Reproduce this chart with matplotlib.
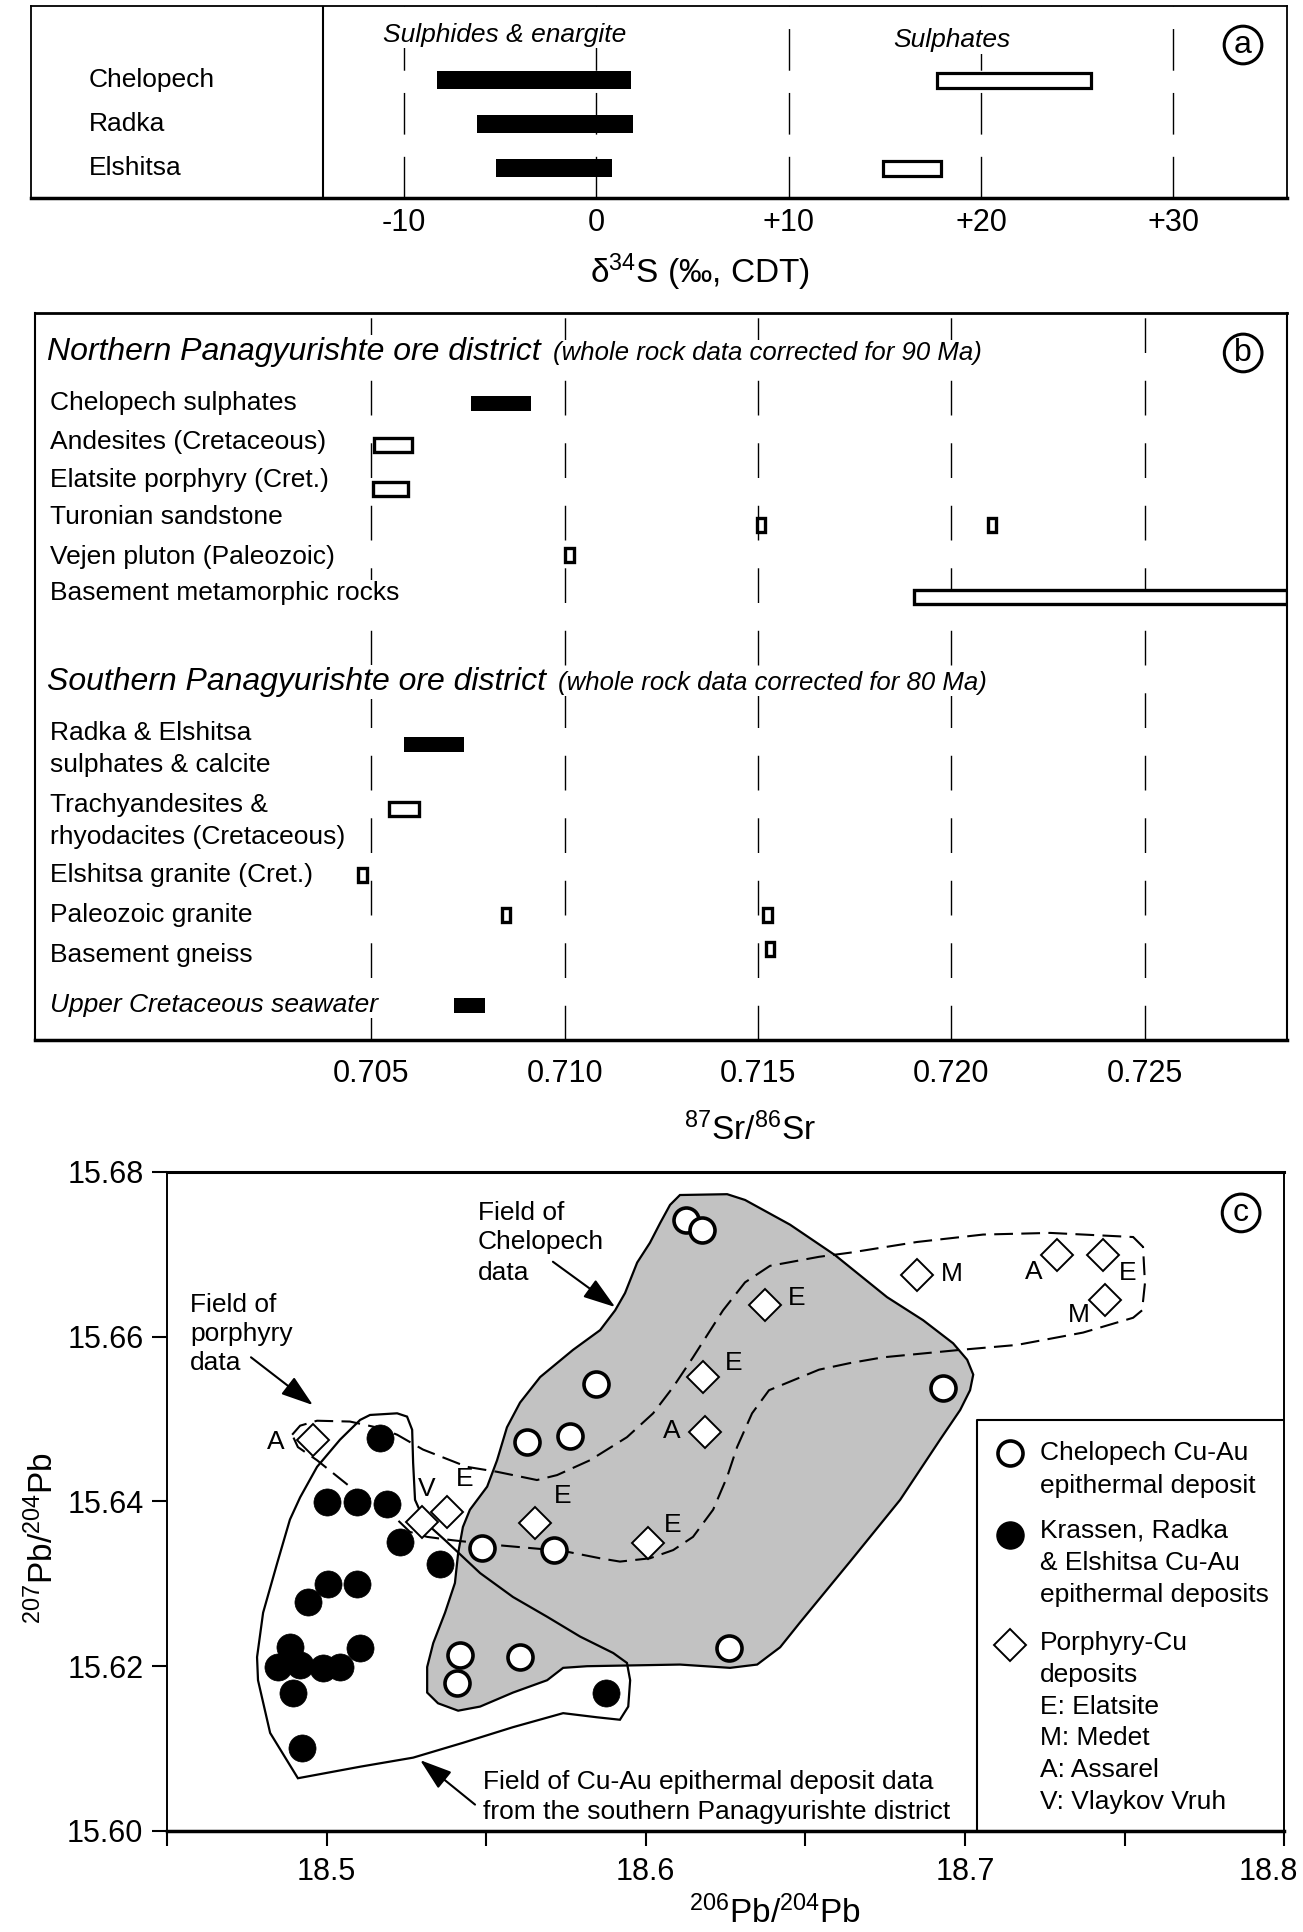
import numpy as np
import matplotlib
matplotlib.use('Agg')
import matplotlib.pyplot as plt
from matplotlib.patches import Polygon
from matplotlib.transforms import blended_transform_factory as blend, ScaledTranslation

plt.rcParams['font.family'] = ['Liberation Sans', 'DejaVu Sans']
plt.rcParams['mathtext.fontset'] = 'custom'
plt.rcParams['mathtext.rm'] = 'Liberation Sans'
plt.rcParams['mathtext.it'] = 'Liberation Sans:italic'

# ---------------- (a) sulphur isotopes
s_sites = ['Chelopech', 'Radka', 'Elshitsa']
sulphide_lo = [-8.3, -6.2, -5.2]
sulphide_hi = [1.8, 1.9, 0.8]
sulphate_sites = ['Chelopech', 'Elshitsa']
sulphate_lo = [17.7, 14.9]
sulphate_hi = [25.7, 17.9]
s_ticks = [-10, 0, 10, 20, 30]
s_ticklabels = ['-10', '0', '+10', '+20', '+30']

# ---------------- (b) strontium isotopes
north_labels = ['Chelopech sulphates', 'Andesites (Cretaceous)', 'Elatsite porphyry (Cret.)',
                'Turonian sandstone', 'Vejen pluton (Paleozoic)', 'Basement metamorphic rocks']
north_ranges = [[(0.70757, 0.70913)],
                [(0.70507, 0.70606)],
                [(0.70505, 0.70596)],
                [(0.71497, 0.71518), (0.72095, 0.72116)],
                [(0.71002, 0.71024)],
                [(0.71904, 0.72868)]]
north_filled = [True, False, False, False, False, False]

south_labels = [['Radka & Elshitsa', 'sulphates & calcite'],
                ['Trachyandesites &', 'rhyodacites (Cretaceous)'],
                ['Elshitsa granite (Cret.)'],
                ['Paleozoic granite'],
                ['Basement gneiss'],
                ['Upper Cretaceous seawater']]
south_ranges = [[(0.70584, 0.70740)],
                [(0.70545, 0.70623)],
                [(0.70467, 0.70488)],
                [(0.70838, 0.70859), (0.71513, 0.71536)],
                [(0.71520, 0.71542)],
                [(0.70714, 0.70794)]]
south_filled = [True, False, False, False, False, True]
sr_ticks = [0.705, 0.710, 0.715, 0.720, 0.725]

# ---------------- (c) lead isotopes
chel_x = [18.6126, 18.6176, 18.5844, 18.6932, 18.5628, 18.5763, 18.5487, 18.5713,
          18.5418, 18.5409, 18.5606, 18.6261]
chel_y = [15.6742, 15.6730, 15.6543, 15.6538, 15.6472, 15.6480, 15.6344, 15.6341,
          15.6214, 15.6180, 15.6211, 15.6222]
south_x = [18.5167, 18.5001, 18.5095, 18.5189, 18.5230, 18.5355, 18.5004, 18.5095, 18.4942,
           18.4885, 18.4848, 18.4917, 18.4989, 18.5042, 18.5105, 18.4895, 18.4923, 18.5876]
south_y = [15.6477, 15.6399, 15.6399, 15.6397, 15.6351, 15.6324, 15.6300, 15.6300, 15.6278,
           15.6223, 15.6199, 15.6202, 15.6198, 15.6199, 15.6222, 15.6168, 15.6101, 15.6168]
por_x = [18.4957, 18.5299, 18.5377, 18.5653, 18.6007, 18.6186, 18.6180, 18.6374,
         18.6850, 18.7289, 18.7433, 18.7439]
por_y = [15.6475, 15.6375, 15.6387, 15.6374, 15.6350, 15.6484, 15.6551, 15.6639,
         15.6675, 15.6699, 15.6699, 15.6645]
por_code = ['A', 'V', 'E', 'E', 'E', 'A', 'E', 'E', 'M', 'A', 'E', 'M']

# outlines of the data fields
chel_field_x = [18.6107, 18.6255, 18.6311, 18.6452, 18.6593, 18.6756, 18.6869, 18.6963, 18.7007,
                18.7026, 18.7016, 18.6985, 18.6922, 18.6797, 18.6640, 18.6483, 18.6421, 18.6349,
                18.6264, 18.6107, 18.5816, 18.5741, 18.5691, 18.5584, 18.5481, 18.5412, 18.5349,
                18.5315, 18.5315, 18.5334, 18.5371, 18.5402, 18.5412, 18.5427, 18.5449, 18.5503,
                18.5534, 18.5565, 18.5606, 18.5669, 18.5772, 18.5857, 18.5904, 18.5935, 18.5973,
                18.6013, 18.6045, 18.6076]
chel_field_y = [15.6772, 15.6773, 15.6766, 15.6736, 15.6699, 15.6648, 15.6620, 15.6592, 15.6572,
                15.6554, 15.6535, 15.6511, 15.6475, 15.6402, 15.6327, 15.6253, 15.6223, 15.6202,
                15.6198, 15.6202, 15.6200, 15.6198, 15.6183, 15.6168, 15.6151, 15.6146, 15.6155,
                15.6168, 15.6199, 15.6228, 15.6265, 15.6301, 15.6337, 15.6369, 15.6390, 15.6418,
                15.6450, 15.6490, 15.6520, 15.6551, 15.6584, 15.6608, 15.6632, 15.6653, 15.6690,
                15.6714, 15.6738, 15.6760]
south_field_x = [18.5105, 18.5136, 18.5221, 18.5252, 18.5268, 18.5271, 18.5277, 18.5308, 18.5371,
                 18.5481, 18.5584, 18.5691, 18.5794, 18.5898, 18.5941, 18.5951, 18.5945, 18.5919,
                 18.5847, 18.5741, 18.5584, 18.5427, 18.5271, 18.5105, 18.4910, 18.4823, 18.4785,
                 18.4782, 18.4801, 18.4845, 18.4885, 18.4917, 18.4970, 18.5042]
south_field_y = [15.6499, 15.6505, 15.6507, 15.6503, 15.6487, 15.6447, 15.6402, 15.6375, 15.6353,
                 15.6313, 15.6284, 15.6260, 15.6236, 15.6216, 15.6204, 15.6183, 15.6151, 15.6135,
                 15.6138, 15.6143, 15.6126, 15.6107, 15.6089, 15.6078, 15.6064, 15.6119, 15.6183,
                 15.6211, 15.6265, 15.6325, 15.6378, 15.6405, 15.6442, 15.6475]
por_field_x = [18.4892, 18.4917, 18.4970, 18.5073, 18.5167, 18.5221, 18.5302, 18.5440, 18.5534,
               18.5659, 18.5722, 18.5825, 18.5941, 18.6023, 18.6086, 18.6148, 18.6242, 18.6311,
               18.6389, 18.6543, 18.6640, 18.6850, 18.7057, 18.7267, 18.7527, 18.7558, 18.7564,
               18.7555, 18.7527, 18.7370, 18.7163, 18.6985, 18.6744, 18.6640, 18.6543, 18.6386,
               18.6333, 18.6286, 18.6255, 18.6211, 18.6148, 18.6086, 18.6013, 18.5919, 18.5857,
               18.5753, 18.5709, 18.5534, 18.5393, 18.5315, 18.5261, 18.5221, 18.5158, 18.5073,
               18.4970, 18.4910]
por_field_y = [15.6481, 15.6492, 15.6498, 15.6497, 15.6489, 15.6481, 15.6463, 15.6442, 15.6436,
               15.6426, 15.6432, 15.6450, 15.6478, 15.6507, 15.6539, 15.6575, 15.6632, 15.6666,
               15.6686, 15.6697, 15.6702, 15.6715, 15.6724, 15.6726, 15.6721, 15.6709, 15.6665,
               15.6632, 15.6623, 15.6605, 15.6590, 15.6584, 15.6575, 15.6568, 15.6560, 15.6535,
               15.6507, 15.6466, 15.6430, 15.6390, 15.6357, 15.6341, 15.6331, 15.6327, 15.6331,
               15.6339, 15.6341, 15.6347, 15.6353, 15.6357, 15.6363, 15.6378, 15.6398, 15.6418,
               15.6450, 15.6466]

pb_xticks = [18.5, 18.6, 18.7, 18.8]
pb_xminor = [18.45, 18.55, 18.65, 18.75]
pb_yticks = [15.60, 15.62, 15.64, 15.66, 15.68]

# ======================================================================
fig = plt.figure(figsize=(13.03, 19.32), dpi=100)
white_box = dict(boxstyle='square,pad=0.05', fc='white', ec='none')


def circled(ax, x, y, letter):
    ax.text(x, y, letter, transform=ax.transAxes, ha='center', va='center', fontsize=23,
            bbox=dict(boxstyle='circle,pad=0.12', fc='white', ec='black', lw=2.2), zorder=10)


# ---------------- panel a
axa = fig.add_axes([0.0238, 0.8975, 0.9639, 0.0995])
axa.set_xlim(-29.4, 35.9)
axa.set_ylim(2.67, -1.68)
for xv in s_ticks:
    axa.axvline(xv, color='black', lw=1, dashes=(30, 16), zorder=1)
axa.axvline(-14.2, color='black', lw=1.5, zorder=2)
rows = np.arange(len(s_sites))
axa.barh(rows, np.array(sulphide_hi) - np.array(sulphide_lo), left=sulphide_lo,
         height=0.41, color='black', zorder=3)
srows = [s_sites.index(s) for s in sulphate_sites]
axa.barh(srows, np.array(sulphate_hi) - np.array(sulphate_lo), left=sulphate_lo,
         height=0.34, color='white', edgecolor='black', linewidth=2.3, zorder=3)
tra = blend(axa.transAxes, axa.transData)
for i, s in enumerate(s_sites):
    axa.text(0.046, i, s, transform=tra, va='center', fontsize=19)
axa.text(-4.8, -1.02, 'Sulphides & enargite', style='italic', ha='center', va='center',
         fontsize=19, bbox=white_box, zorder=4)
axa.text(18.5, -0.9, 'Sulphates', style='italic', ha='center', va='center', fontsize=19,
         bbox=white_box, zorder=4)
axa.set_xticks(s_ticks)
axa.set_xticklabels(s_ticklabels)
axa.set_yticks([])
axa.tick_params(axis='x', length=0, pad=7, labelsize=22)
axa.text(5.4, -0.385, r'$\mathrm{\delta}^{34}$S (‰, CDT)', transform=blend(axa.transData, axa.transAxes),
         ha='center', va='center', fontsize=24)
for sp in axa.spines.values():
    sp.set_linewidth(1.3)
axa.spines['bottom'].set_linewidth(2.5)
circled(axa, 0.965, 0.796, 'a')

# ---------------- panel b
axb = fig.add_axes([0.0269, 0.4617, 0.9609, 0.3763])
axb.set_xlim(0.69631, 0.72868)
axb.set_ylim(1040, 313)
for xv in sr_ticks:
    axb.axvline(xv, color='black', lw=1, dashes=(25, 20), zorder=1)

north_bar_y = [404, 445, 489, 525, 555, 597]
north_text_y = [403, 442, 480, 517, 557, 593]
south_bar_y = [745, 809, 875, 915, 949, 1006]
south_text_y = [[733, 765], [805, 837], [875], [915], [955], [1005]]


def draw_rows(ax, ranges, filled, ys):
    for rr, f, y in zip(ranges, filled, ys):
        for lo, hi in rr:
            if f:
                ax.barh(y, hi - lo, left=lo, height=15, color='black', zorder=3)
            else:
                ax.barh(y, hi - lo, left=lo, height=13.5, color='white',
                        edgecolor='black', linewidth=2.4, zorder=3)


draw_rows(axb, north_ranges, north_filled, north_bar_y)
draw_rows(axb, south_ranges, south_filled, south_bar_y)

trb = blend(axb.transAxes, axb.transData)
axb.text(0.0096, 360, 'Northern Panagyurishte ore district', transform=trb, style='italic',
         fontsize=23, va='baseline', bbox=white_box, zorder=4)
axb.text(0.4137, 360, '(whole rock data corrected for 90 Ma)', transform=trb, style='italic',
         fontsize=18.5, va='baseline', bbox=white_box, zorder=4)
axb.text(0.0096, 690, 'Southern Panagyurishte ore district', transform=trb, style='italic',
         fontsize=23, va='baseline', bbox=white_box, zorder=4)
axb.text(0.4177, 690, '(whole rock data corrected for 80 Ma)', transform=trb, style='italic',
         fontsize=18.5, va='baseline', bbox=white_box, zorder=4)
for lab, y in zip(north_labels, north_text_y):
    axb.text(0.012, y, lab, transform=trb, va='center', fontsize=19, bbox=white_box, zorder=4)
for labs, ys in zip(south_labels, south_text_y):
    for lab, y in zip(labs, ys):
        st = 'italic' if 'seawater' in lab else 'normal'
        axb.text(0.012, y, lab, transform=trb, va='center', fontsize=19, style=st,
                 bbox=white_box, zorder=4)
axb.set_xticks(sr_ticks)
axb.set_xticklabels(['%.3f' % t for t in sr_ticks])
axb.set_yticks([])
axb.tick_params(axis='x', length=0, pad=14, labelsize=22)
axb.text(0.7148, -0.124, r'$^{87}$Sr/$^{86}$Sr', transform=blend(axb.transData, axb.transAxes),
         ha='center', va='center', fontsize=24)
for sp in axb.spines.values():
    sp.set_linewidth(1.5)
axb.spines['top'].set_linewidth(2)
axb.spines['bottom'].set_linewidth(2.5)
circled(axb, 0.9649, 0.945, 'b')

# ---------------- panel c
axc = fig.add_axes([0.1282, 0.0523, 0.8573, 0.3411])
axc.set_xlim(18.45, 18.8)
axc.set_ylim(15.60, 15.68)

axc.add_patch(Polygon(np.column_stack([chel_field_x, chel_field_y]), closed=True,
                      fc='#c2c2c2', ec='black', lw=1.6, zorder=1))
axc.add_patch(Polygon(np.column_stack([south_field_x, south_field_y]), closed=True,
                      fill=False, ec='black', lw=1.6, zorder=2))
axc.add_patch(Polygon(np.column_stack([por_field_x, por_field_y]), closed=True,
                      fill=False, ec='black', lw=1.5, linestyle=(0, (9, 4)), zorder=2))

axc.plot(south_x, south_y, 'o', ms=19.5, mfc='black', mec='black', mew=0.5, zorder=4)
axc.plot(chel_x, chel_y, 'o', ms=18, mfc='white', mec='black', mew=2.6, zorder=5)
axc.plot(por_x, por_y, 'D', ms=16.5, mfc='white', mec='black', mew=1.4, zorder=6)

code_offsets = [(-27, -2), (3, 24), (13, 24), (20, 19), (18, 13), (-24, 1),
                (22, 10), (23, 5), (25, 1), (-17, -12), (18, -13), (-19, -11)]
for x, y, c, off in zip(por_x, por_y, por_code, code_offsets):
    axc.annotate(c, (x, y), xytext=off, textcoords='offset points', ha='center', va='center',
                 fontsize=19, zorder=7)

arrow = dict(arrowstyle='-|>,head_length=0.9,head_width=0.3', color='black', lw=1.5,
             mutation_scale=22, shrinkA=0, shrinkB=0)
axc.annotate('', xy=(18.5904, 15.6636), xytext=(18.5709, 15.6691), arrowprops=arrow)
axc.annotate('', xy=(18.4957, 15.6517), xytext=(18.4763, 15.6575), arrowprops=arrow)
axc.annotate('', xy=(18.5293, 15.6086), xytext=(18.5465, 15.6032), arrowprops=arrow)

for txt, x, y in [('Field of', 0.2784, 0.9378), ('Chelopech', 0.2784, 0.8938), ('data', 0.2784, 0.8467),
                  ('Field of', 0.0206, 0.7982), ('porphyry', 0.0206, 0.7542), ('data', 0.0206, 0.7102),
                  ('Field of Cu-Au epithermal deposit data', 0.2829, 0.0744),
                  ('from the southern Panagyurishte district', 0.2829, 0.0288)]:
    axc.text(x, y, txt, transform=axc.transAxes, va='center', fontsize=19, zorder=8)

# legend box
axc.plot([0.725, 0.725, 1.0], [0.0, 0.6237, 0.6237], transform=axc.transAxes,
         color='black', lw=1.5, zorder=8)
axc.plot([0.7547], [0.5736], 'o', ms=18, mfc='white', mec='black', mew=2.6, transform=axc.transAxes, zorder=9)
axc.plot([0.7547], [0.4492], 'o', ms=19.5, mfc='black', mec='black', transform=axc.transAxes, zorder=9)
axc.plot([0.7547], [0.2822], 'D', ms=16.5, mfc='white', mec='black', mew=1.4, transform=axc.transAxes, zorder=9)
legend_lines = ['Chelopech Cu-Au', 'epithermal deposit', 'Krassen, Radka', '& Elshitsa Cu-Au',
                'epithermal deposits', 'Porphyry-Cu', 'deposits', 'E: Elatsite', 'M: Medet',
                'A: Assarel', 'V: Vlaykov Vruh']
legend_y = [0.5736, 0.5235, 0.4552, 0.4067, 0.3581, 0.2853, 0.2367, 0.1882, 0.1411, 0.0926, 0.0440]
for txt, y in zip(legend_lines, legend_y):
    axc.text(0.7816, y, txt, transform=axc.transAxes, va='center', fontsize=19, zorder=9)

axc.set_xticks(pb_xticks)
axc.set_xticklabels(['%.1f' % t for t in pb_xticks])
axc.set_xticks(pb_xminor, minor=True)
axc.set_yticks(pb_yticks)
axc.set_yticklabels(['%.2f' % t for t in pb_yticks])
axc.tick_params(axis='both', which='both', direction='out', length=11, width=1.5, labelsize=22)
axc.tick_params(axis='x', which='both', pad=8)
axc.tick_params(axis='y', pad=6)
axc.tick_params(axis='x', which='minor', labelbottom=False)
# the last x label sits a little left of its tick, inside the figure
last = axc.get_xticklabels()[-1]
last.set_transform(last.get_transform() + ScaledTranslation(-0.16, 0, fig.dpi_scale_trans))
axc.text(0.5443, -0.124, r'$^{206}$Pb/$^{204}$Pb', transform=axc.transAxes,
         ha='center', va='center', fontsize=24)
axc.text(-0.111, 0.4446, r'$^{207}$Pb/$^{204}$Pb', transform=axc.transAxes, rotation=90,
         ha='center', va='center', fontsize=24)
for sp in axc.spines.values():
    sp.set_linewidth(1.4)
axc.spines['top'].set_linewidth(2.2)
axc.spines['bottom'].set_linewidth(2.5)
circled(axc, 0.9615, 0.9378, 'c')

fig.savefig('out.png', dpi=100)
